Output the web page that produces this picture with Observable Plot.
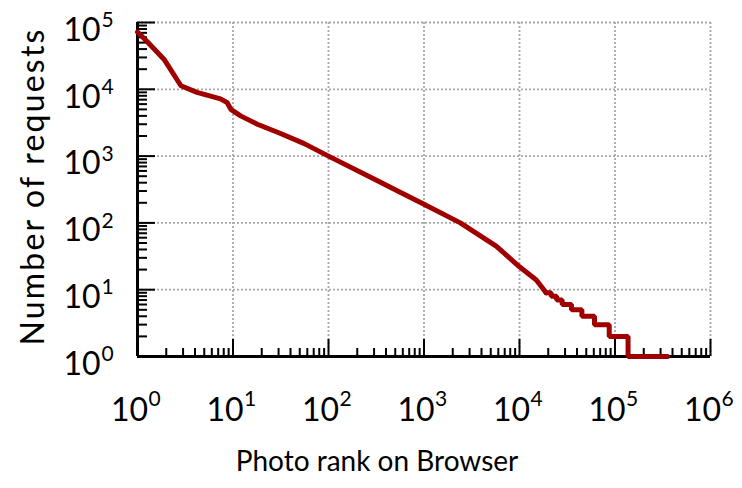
<!DOCTYPE html>
<html>
<head>
<meta charset="utf-8">
<script src="https://cdn.jsdelivr.net/npm/d3@7"></script>
<script src="https://cdn.jsdelivr.net/npm/@observablehq/plot@0.6"></script>
<style>
  html, body { margin: 0; padding: 0; background: #fff; }
</style>
</head>
<body>
<div id="chart"></div>
<script>
// Smooth part of the rank/frequency curve
const rank = [1, 1.26, 1.9, 2.85, 4.2, 7.4, 8.7, 9.5, 12, 18, 31, 55, 100, 300, 530, 1000, 2400, 5700, 10000, 15000, 19000];
const requests = [72000, 52000, 28000, 11300, 9000, 7200, 6300, 5000, 4000, 3000, 2200, 1550, 1000, 454, 300, 190, 100, 45, 22, 14, 9];
// Staircase tail (integer request counts)
const stepRank = [19000, 21500, 24500, 28000, 35000, 45000, 61000, 87000, 137000, 355000];
const stepRequests = [9, 8, 7, 6, 5, 4, 3, 2, 1, 1];

// Axis ticks and labels
const xTicks = [1, 10, 100, 1000, 10000, 100000, 1000000];
const xTickExp = ["0", "1", "2", "3", "4", "5", "6"];
const yTicks = [1, 10, 100, 1000, 10000, 100000];
const yTickExp = ["0", "1", "2", "3", "4", "5"];
const xLabel = "Photo rank on Browser";
const yLabel = "Number of requests";

const curve = rank.map((r, i) => ({rank: r, requests: requests[i]}));
const steps = stepRank.map((r, i) => ({rank: r, requests: stepRequests[i]}));

const minor = (majors) => majors.slice(0, -1).flatMap(m => [2,3,4,5,6,7,8,9].map(k => k * m));
const xMinor = minor(xTicks);
const yMinor = minor(yTicks);

const W = 742, H = 488;
const mL = 137, mT = 22, mR = 32, mB = 132;
const innerW = W - mL - mR, innerH = H - mT - mB;
const font = "Lato, 'Open Sans', sans-serif";
const red = "#a00000";

const chart = Plot.plot({
  width: W,
  height: H,
  marginLeft: mL,
  marginTop: mT,
  marginRight: mR,
  marginBottom: mB,
  style: {fontFamily: font, background: "#fff", overflow: "visible"},
  x: {type: "log", domain: [1, 1e6], axis: null},
  y: {type: "log", domain: [1, 1e5], axis: null},
  marks: [
    // dotted grid
    Plot.ruleX(xTicks.slice(1), {stroke: "#a8a8a8", strokeWidth: 1.8, strokeDasharray: "2,2"}),
    Plot.ruleY(yTicks.slice(1), {stroke: "#a8a8a8", strokeWidth: 1.8, strokeDasharray: "2,2"}),
    // inward ticks on the bottom axis
    Plot.tickX(xMinor, {x: d => d, stroke: "#000", strokeWidth: 2, insetTop: innerH - 8}),
    Plot.tickX(xTicks, {x: d => d, stroke: "#000", strokeWidth: 2, insetTop: innerH - 17}),
    // inward ticks on the left axis
    Plot.tickY(yMinor, {y: d => d, stroke: "#000", strokeWidth: 2, insetRight: innerW - 10}),
    Plot.tickY(yTicks, {y: d => d, stroke: "#000", strokeWidth: 2, insetRight: innerW - 18}),
    // axis lines
    Plot.ruleY([1], {stroke: "#000", strokeWidth: 3}),
    Plot.ruleX([1], {stroke: "#000", strokeWidth: 3}),
    // data
    Plot.line(curve, {x: "rank", y: "requests", stroke: red, strokeWidth: 5, strokeLinejoin: "round", strokeLinecap: "round"}),
    Plot.line(steps, {x: "rank", y: "requests", stroke: red, strokeWidth: 5, curve: "step-after", strokeLinejoin: "miter"}),
    // x tick labels
    Plot.text(xTicks, {x: d => d, frameAnchor: "bottom", lineAnchor: "middle", text: () => "10", fontSize: 32, textAnchor: "middle", dx: -8, dy: 54, fill: "#000"}),
    Plot.text(xTicks, {x: d => d, frameAnchor: "bottom", lineAnchor: "middle", text: (d, i) => xTickExp[i], fontSize: 21, textAnchor: "start", dx: 11, dy: 43, fill: "#000"}),
    // y tick labels
    Plot.text(yTicks, {y: d => d, frameAnchor: "left", lineAnchor: "middle", text: () => "10", fontSize: 32, textAnchor: "end", dx: -37, dy: 8, fill: "#000"}),
    Plot.text(yTicks, {y: d => d, frameAnchor: "left", lineAnchor: "middle", text: (d, i) => yTickExp[i], fontSize: 21, textAnchor: "start", dx: -36, dy: -2, fill: "#000"}),
    // axis labels
    Plot.text([xLabel], {frameAnchor: "bottom", lineAnchor: "middle", textAnchor: "middle", text: d => d, fontSize: 28, dx: -47, dy: 106, fill: "#000"}),
    Plot.text([yLabel], {frameAnchor: "left", lineAnchor: "middle", textAnchor: "middle", text: d => d, fontSize: 32, rotate: -90, dx: -104, dy: -3, fill: "#000"})
  ]
});
// widen the rotated y label's letter spacing to match the reference typeface
chart.querySelectorAll("text").forEach(t => {
  if (t.textContent === yLabel) t.style.letterSpacing = "2.2px";
});
document.getElementById("chart").appendChild(chart);
</script>
</body>
</html>
